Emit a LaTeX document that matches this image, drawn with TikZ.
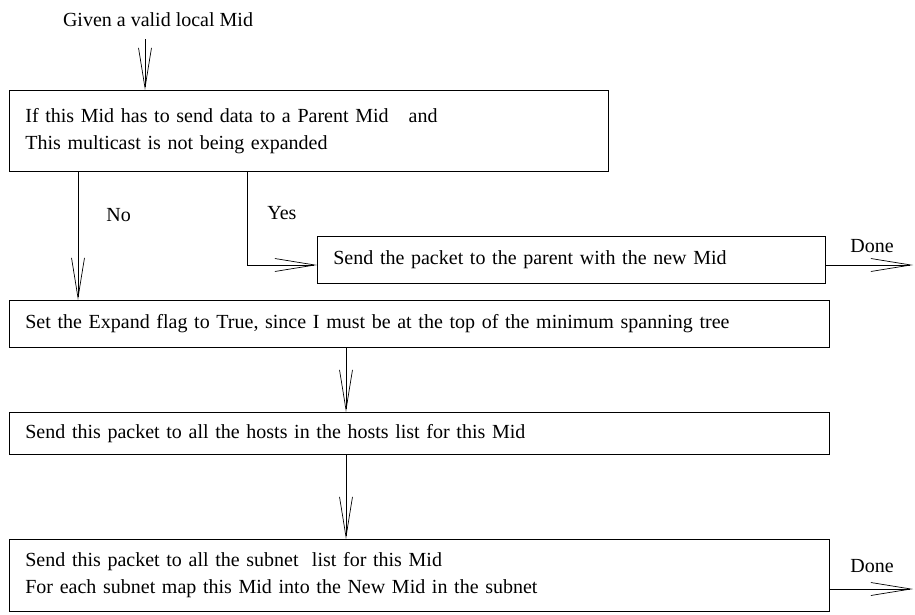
\documentclass[tikz,border=0pt]{standalone}
\usepackage{fontspec}
\setmainfont{Liberation Serif}
\usetikzlibrary{arrows.meta}
\begin{document}
\begin{tikzpicture}[x=1pt,y=-1pt,
  line width=0.7pt,
  every node/.style={font=\fontsize{20}{27}\selectfont},
  stepbox/.style={draw, rectangle, anchor=north west, inner xsep=16pt, inner ysep=0pt, align=left},
  lbl/.style={anchor=west, inner sep=0pt},
  flow/.style={-{Straight Barb[length=40pt,width=13pt,line width=0.7pt]}}
]
\useasboundingbox (0,0) rectangle (915,615);

% start label
\node[inner sep=0pt] (start) at (158,20) {Given a valid local Mid};

% decision box
\node[stepbox, minimum width=599pt, minimum height=81pt, text width=567pt] (test) at (9,90)
  {If this Mid has to send data to a Parent Mid\ \ \ and\\This multicast is not being expanded};

% yes branch
\node[stepbox, minimum width=508pt, minimum height=47pt, text width=476pt] (parent) at (317,236)
  {Send the packet to the parent with the new Mid};

% remaining steps
\node[stepbox, minimum width=820pt, minimum height=47pt, text width=788pt] (expand) at (9,300)
  {Set the Expand flag to True, since I must be at the top of the minimum spanning tree};
\node[stepbox, minimum width=820pt, minimum height=42pt, text width=788pt] (hosts) at (9,412)
  {Send this packet to all the hosts in the hosts list for this Mid};
\node[stepbox, minimum width=820pt, minimum height=72pt, text width=788pt] (subnet) at (9,539)
  {Send this packet to all the subnet\ \ list for this Mid\\For each subnet map this Mid into the New Mid in the subnet};

% connector end points
\coordinate (yesbend) at (247,265);
\coordinate (done1) at (913,265);
\coordinate (done2) at (913,589);

% connectors
\draw[flow] (start.south -| 145,0) ++(0,12) -- (test.north -| 145,0);
\draw[flow] (test.south -| 78,0) -- (expand.north -| 78,0);
\draw[flow] (test.south -| yesbend) -- (yesbend) -- (parent.west |- yesbend);
\draw[flow] (parent.east |- done1) -- (done1);
\draw[flow] (expand.south -| 346,0) -- (hosts.north -| 346,0);
\draw[flow] (hosts.south -| 346,0) -- (subnet.north -| 346,0);
\draw[flow] (subnet.east |- done2) -- (done2);

% branch labels
\node[lbl] (no) at (106,215) {No};
\node[lbl] (yes) at (267,213) {Yes};
\node[lbl] (d1) at (850,246) {Done};
\node[lbl] (d2) at (850,566) {Done};
\end{tikzpicture}
\end{document}
